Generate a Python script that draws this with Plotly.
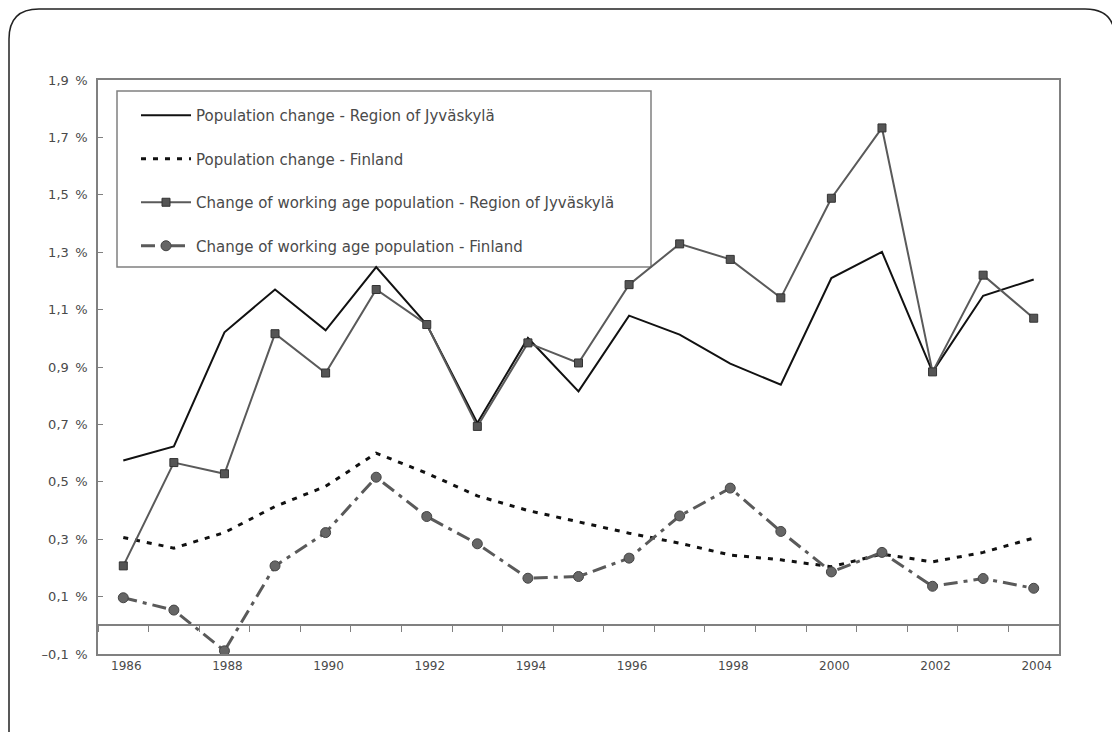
import plotly.graph_objects as go

years = list(range(1986, 2005))
pop_region = [0.574, 0.623, 1.021, 1.170, 1.028, 1.248, 1.048, 0.705, 1.001, 0.815,
              1.079, 1.013, 0.912, 0.838, 1.210, 1.301, 0.883, 1.148, 1.205]
pop_finland = [0.306, 0.269, 0.323, 0.414, 0.484, 0.600, 0.530, 0.451, 0.400, 0.361,
               0.321, 0.286, 0.245, 0.228, 0.204, 0.248, 0.221, 0.254, 0.304]
work_region = [0.207, 0.567, 0.528, 1.016, 0.879, 1.170, 1.048, 0.693, 0.984, 0.914,
               1.187, 1.329, 1.275, 1.141, 1.488, 1.733, 0.883, 1.220, 1.070]
work_finland = [0.096, 0.053, -0.089, 0.207, 0.323, 0.516, 0.379, 0.284, 0.164, 0.170,
                0.234, 0.381, 0.478, 0.327, 0.186, 0.254, 0.136, 0.163, 0.129]

names = ["Population change - Region of Jyväskylä",
         "Population change - Finland",
         "Change of working age population - Region of Jyväskylä",
         "Change of working age population - Finland"]

x_tickvals = list(range(1986, 2005, 2))
x_ticktext = [str(y) for y in x_tickvals]
y_tickvals = [-0.1, 0.1, 0.3, 0.5, 0.7, 0.9, 1.1, 1.3, 1.5, 1.7, 1.9]
y_ticktext = ["\u20130,1\u2002%", "0,1\u2002%", "0,3\u2002%", "0,5\u2002%", "0,7\u2002%",
              "0,9\u2002%", "1,1\u2002%", "1,3\u2002%", "1,5\u2002%", "1,7\u2002%",
              "1,9\u2002%"]

FONT = "DejaVu Sans"
TXT = "#4a4a4a"
FRAME = "#808080"

fig = go.Figure()
fig.add_trace(go.Scatter(x=years, y=pop_region, name=names[0], mode="lines",
                         legendgroup="a", line=dict(color="#111111", width=2)))
fig.add_trace(go.Scatter(x=years, y=pop_finland, name=names[1], mode="lines",
                         legendgroup="b", line=dict(color="#111111", width=3, dash="5px,7px")))
fig.add_trace(go.Scatter(x=years, y=work_region, name=names[2], mode="lines+markers",
                         legendgroup="c", line=dict(color="#5a5a5a", width=2),
                         marker=dict(symbol="square", size=8, color="#555555",
                                     line=dict(color="#333333", width=1))))
fig.add_trace(go.Scatter(x=years, y=work_finland, name=names[3], mode="lines+markers",
                         legendgroup="d", xaxis="x2",
                         line=dict(color="#5a5a5a", width=3, dash="14px,6px,4px,6px"),
                         marker=dict(symbol="circle", size=10, color="#666666",
                                     line=dict(color="#444444", width=1))))

# page offset of 8px (browser body margin) is accounted for below
W, H = 1112, 724
PL, PR, PT, PB = 98, 1059, 80, 654  # plot area in page pixels
L, T = PL - 8, PT - 8
R = W - (PR - 8)
B = H - (PB - 8)
pw, ph = PR - PL, PB - PT


def px(x):
    return (x - PL) / pw


def py(y):
    return (PB - y) / ph


rr = 30
x0, x1, y0 = 9, 1115, 9
path = (f"M {px(x0)},{py(760)} L {px(x0)},{py(y0 + rr)} Q {px(x0)},{py(y0)} {px(x0 + rr)},{py(y0)} "
        f"L {px(x1 - rr)},{py(y0)} Q {px(x1)},{py(y0)} {px(x1)},{py(y0 + rr)} "
        f"L {px(x1)},{py(760)}")

fig.update_layout(
    width=W, height=H,
    margin=dict(l=L, r=R, t=T, b=B),
    paper_bgcolor="white", plot_bgcolor="white",
    font=dict(family=FONT, size=12, color=TXT),
    showlegend=True,
    legend=dict(x=px(136), y=py(99), xanchor="left", yanchor="top",
                bgcolor="rgba(0,0,0,0)", borderwidth=0,
                font=dict(family=FONT, size=15, color=TXT),
                traceorder="grouped", tracegroupgap=21,
                itemwidth=50),
    xaxis=dict(range=[1985.5, 2004.5], tickmode="array", tickvals=x_tickvals,
               ticktext=x_ticktext, showline=True, mirror=True, linecolor=FRAME,
               linewidth=1.5, ticks="", showgrid=False, zeroline=False,
               ticklabelshift=3,
               tickfont=dict(family=FONT, size=12, color=TXT)),
    xaxis2=dict(range=[1985.5, 2004.5], overlaying="x", anchor="free", position=0.05,
                side="bottom", showline=True, linecolor=FRAME, linewidth=1.5,
                ticks="outside", ticklen=6, tickcolor=FRAME, tickwidth=1,
                tickmode="array", tickvals=[1985.5 + i for i in range(20)],
                showticklabels=False, showgrid=False, zeroline=False),
    yaxis=dict(range=[-0.1, 1.9], tickmode="array", tickvals=y_tickvals,
               ticktext=y_ticktext, showline=True, mirror=True, linecolor=FRAME,
               linewidth=1.5, ticks="inside", ticklen=5, tickcolor=FRAME,
               showgrid=False, zeroline=False, ticklabelstandoff=6,
               tickfont=dict(family=FONT, size=13, color=TXT)),
    shapes=[
        dict(type="path", xref="paper", yref="paper", path=path,
             line=dict(color="#222222", width=1.5)),
        dict(type="rect", xref="paper", yref="paper",
             x0=px(117), x1=px(651), y0=py(267), y1=py(91),
             line=dict(color=FRAME, width=1.5), fillcolor="white", layer="below"),
    ],
)

fig.write_html("out.html")
